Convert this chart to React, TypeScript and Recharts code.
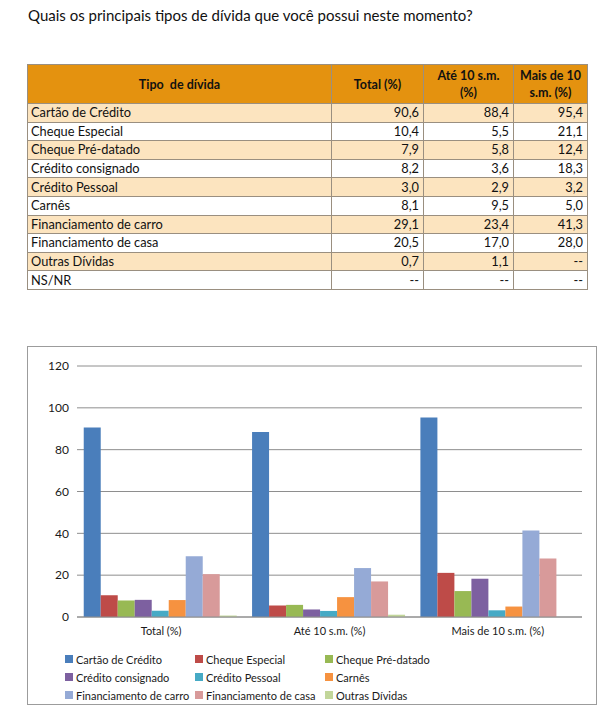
import React from 'react';
import { BarChart, Bar, XAxis, YAxis, CartesianGrid, Legend } from 'recharts';

const title = 'Quais os principais tipos de dívida que você possui neste momento?';
const headerLabels = ['Tipo  de dívida', 'Total (%)', 'Até 10 s.m.\n(%)', 'Mais de 10\ns.m. (%)'];
const categories = ['Total (%)', 'Até 10 s.m. (%)', 'Mais de 10 s.m. (%)'];
const debtTypes = [
  'Cartão de Crédito',
  'Cheque Especial',
  'Cheque Pré-datado',
  'Crédito consignado',
  'Crédito Pessoal',
  'Carnês',
  'Financiamento de carro',
  'Financiamento de casa',
  'Outras Dívidas',
  'NS/NR',
];
const totalValues: (number | null)[] = [90.6, 10.4, 7.9, 8.2, 3.0, 8.1, 29.1, 20.5, 0.7, null];
const ateValues: (number | null)[] = [88.4, 5.5, 5.8, 3.6, 2.9, 9.5, 23.4, 17.0, 1.1, null];
const maisValues: (number | null)[] = [95.4, 21.1, 12.4, 18.3, 3.2, 5.0, 41.3, 28.0, null, null];
const seriesColors = ['#4A7EBB', '#BE4B48', '#98B954', '#7D60A0', '#46AAC5', '#F69240', '#95AAD6', '#D89A9A', '#C2D69A'];
const yTicks = [0, 20, 40, 60, 80, 100, 120];

const chartSeriesCount = 9;
const columnValues = [totalValues, ateValues, maisValues];
const chartData = categories.map((cat, ci) => {
  const row: Record<string, any> = { category: cat };
  for (let s = 0; s < chartSeriesCount; s++) row['s' + s] = columnValues[ci][s];
  return row;
});

const fmt = (v: number | null) => (v === null ? '--' : v.toFixed(1).replace('.', ','));

const FONT = 'Lato, "Open Sans", sans-serif';
const BORDER = '1px solid #9a8f80';

function LegendContent() {
  const colX = [37, 167, 297];
  return (
    <div style={{ position: 'relative', width: 554, height: 54, fontFamily: FONT, fontSize: 11, color: '#1a1a1a' }}>
      {debtTypes.slice(0, chartSeriesCount).map((name, i) => {
        const col = i % 3;
        const row = Math.floor(i / 3);
        return (
          <div
            key={name}
            style={{ position: 'absolute', left: colX[col], top: 3 + row * 18, height: 18, display: 'flex', alignItems: 'center', whiteSpace: 'nowrap' }}
          >
            <span style={{ display: 'inline-block', width: 8, height: 8, background: seriesColors[i], marginRight: 3 }} />
            <span>{name}</span>
          </div>
        );
      })}
    </div>
  );
}

export default function App() {
  const colWidths = [304, 92, 90, 74];
  return (
    <div>
      <div style={{ position: 'absolute', left: 28, top: 6, fontFamily: FONT, fontSize: 15, color: '#111', whiteSpace: 'nowrap' }}>
        {title}
      </div>
      <table
        style={{
          position: 'absolute',
          left: 27,
          top: 64,
          borderCollapse: 'collapse',
          fontFamily: FONT,
          fontSize: 12.8,
          color: '#111',
          tableLayout: 'fixed',
          width: colWidths.reduce((a, b) => a + b, 0),
        }}
      >
        <colgroup>
          {colWidths.map((w, i) => (
            <col key={i} style={{ width: w }} />
          ))}
        </colgroup>
        <thead>
          <tr style={{ height: 39, background: '#E4920F' }}>
            {headerLabels.map((h, i) => (
              <th
                key={i}
                style={{ border: BORDER, fontWeight: 700, fontSize: 12.5, textAlign: 'center', whiteSpace: 'pre', lineHeight: '17px', padding: 0 }}
              >
                {h}
              </th>
            ))}
          </tr>
        </thead>
        <tbody>
          {debtTypes.map((name, i) => (
            <tr key={name} style={{ height: 18.6, background: i % 2 === 0 ? '#FCE4BF' : '#FFFFFF' }}>
              <td style={{ border: BORDER, padding: '0 3px', lineHeight: '17px' }}>{name}</td>
              {[totalValues[i], ateValues[i], maisValues[i]].map((v, j) => (
                <td key={j} style={{ border: BORDER, padding: '0 4px', textAlign: 'right', lineHeight: '17px' }}>
                  {fmt(v)}
                </td>
              ))}
            </tr>
          ))}
        </tbody>
      </table>
      <div
        style={{
          position: 'absolute',
          left: 27,
          top: 346,
          width: 570,
          height: 359,
          border: '1px solid #9c9c9c',
          boxSizing: 'border-box',
          background: '#fff',
        }}
      >
        <BarChart
          width={568}
          height={355}
          data={chartData}
          margin={{ top: 19, right: 14, left: 0, bottom: 1 }}
          barCategoryGap="4%"
          barGap={0}
        >
          <CartesianGrid vertical={false} stroke="#8e8e8e" strokeWidth={1} />
          <XAxis
            dataKey="category"
            height={30}
            tickLine={false}
            axisLine={{ stroke: '#8e8e8e' }}
            tickMargin={4}
            tick={{ fontFamily: FONT, fontSize: 11, fill: '#1a1a1a' }}
            interval={0}
          />
          <YAxis
            width={49}
            domain={[0, 120]}
            ticks={yTicks}
            tickLine={false}
            axisLine={false}
            tick={{ fontFamily: FONT, fontSize: 12, fill: '#1a1a1a' }}
          />
          <Legend verticalAlign="bottom" height={54} content={() => <LegendContent />} />
          {debtTypes.slice(0, chartSeriesCount).map((name, i) => (
            <Bar key={name} dataKey={'s' + i} name={name} fill={seriesColors[i]} isAnimationActive={false} />
          ))}
        </BarChart>
      </div>
    </div>
  );
}
